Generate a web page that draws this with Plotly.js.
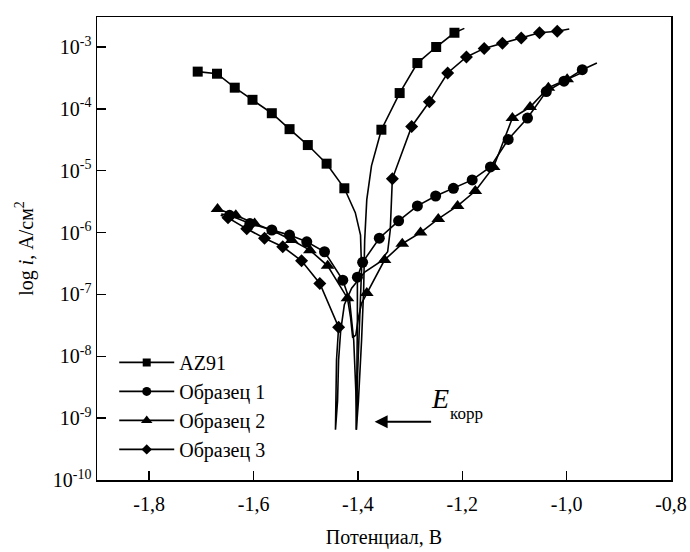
<!DOCTYPE html>
<html><head><meta charset="utf-8">
<script src="https://cdn.plot.ly/plotly-3.0.1.min.js"></script>
<style>html,body{margin:0;padding:0;background:#fff}#chart{width:690px;height:552px}</style>
</head><body><div id="chart"></div>
<script>
// ---- series names / symbols ----
const seriesNames = ['AZ91', 'Образец 1', 'Образец 2', 'Образец 3'];
const seriesSymbols = ['square', 'circle', 'triangle-up', 'diamond'];

// ---- AZ91 ----
const az91HeadE = [];
const az91HeadI = [];
const az91CathE = [-1.707, -1.670, -1.636, -1.602, -1.565, -1.531, -1.496, -1.460, -1.426];
const az91CathI = [4.0e-4, 3.7e-4, 2.2e-4, 1.4e-4, 8.5e-5, 4.7e-5, 2.6e-5, 1.3e-5, 5.2e-6];
const az91DipE = [-1.405, -1.395, -1.393, -1.397, -1.401, -1.403, -1.399, -1.393, -1.389, -1.387, -1.383, -1.374];
const az91DipI = [2.1e-6, 9.1e-7, 2.5e-7, 3.9e-8, 4.2e-9, 6.5e-10, 1.9e-9, 1.8e-8, 1.2e-7, 7.6e-7, 3.4e-6, 1.2e-5];
const az91AnodE = [-1.355, -1.320, -1.286, -1.250, -1.215];
const az91AnodI = [4.6e-5, 1.8e-4, 5.5e-4, 1.0e-3, 1.7e-3];
const az91TailE = [-1.196];
const az91TailI = [2.0e-3];

// ---- Образец 1 ----
const s1HeadE = [-1.662];
const s1HeadI = [2.0e-6];
const s1CathE = [-1.646, -1.607, -1.565, -1.531, -1.498, -1.464, -1.429];
const s1CathI = [1.9e-6, 1.4e-6, 1.1e-6, 9.1e-7, 7.1e-7, 4.9e-7, 1.7e-7];
const s1DipE = [-1.416, -1.408, -1.404, -1.403, -1.402, -1.401, -1.401];
const s1DipI = [8.1e-8, 1.8e-8, 2.8e-9, 6.5e-10, 2.8e-9, 3.9e-8, 1.2e-7];
const s1AnodE = [-1.401, -1.391, -1.359, -1.322, -1.286, -1.251, -1.217, -1.181, -1.146, -1.112, -1.075, -1.039, -1.005, -0.970];
const s1AnodI = [1.9e-7, 3.3e-7, 8.1e-7, 1.55e-6, 2.7e-6, 3.9e-6, 5.2e-6, 7.1e-6, 1.15e-5, 3.2e-5, 7.1e-5, 1.9e-4, 2.8e-4, 4.3e-4];
const s1TailE = [-0.942];
const s1TailI = [5.5e-4];

// ---- Образец 2 ----
const s2HeadE = [];
const s2HeadI = [];
const s2CathE = [-1.669, -1.634, -1.598, -1.563, -1.527, -1.492, -1.458, -1.420];
const s2CathI = [2.4e-6, 1.9e-6, 1.4e-6, 1.07e-6, 7.6e-7, 5.2e-7, 2.9e-7, 8.7e-8];
const s2DipE = [-1.414, -1.410, -1.404, -1.399, -1.393];
const s2DipI = [4.2e-8, 2.0e-8, 2.2e-8, 4.2e-8, 7.2e-8];
const s2AnodE = [-1.383, -1.349, -1.315, -1.280, -1.246, -1.209, -1.175, -1.140, -1.104, -1.070, -1.035, -0.999];
const s2AnodI = [1.05e-7, 3.6e-7, 6.6e-7, 1.0e-6, 1.66e-6, 2.7e-6, 4.7e-6, 1.15e-5, 7.1e-5, 1.07e-4, 2.2e-4, 3.0e-4];
const s2TailE = [-0.966];
const s2TailI = [4.0e-4];

// ---- Образец 3 ----
const s3HeadE = [-1.663];
const s3HeadI = [1.9e-6];
const s3CathE = [-1.649, -1.613, -1.579, -1.544, -1.508, -1.473, -1.437];
const s3CathI = [1.74e-6, 1.15e-6, 8.1e-7, 5.9e-7, 3.5e-7, 1.5e-7, 2.95e-8];
const s3DipE = [-1.441, -1.443, -1.443, -1.439, -1.437, -1.433, -1.426, -1.412, -1.387, -1.359, -1.343, -1.338, -1.336];
const s3DipI = [8.7e-9, 1.9e-9, 6.5e-10, 1.9e-9, 8.7e-9, 2.6e-8, 6.8e-8, 1.26e-7, 2.3e-7, 3.3e-7, 4.9e-7, 1.1e-6, 2.8e-6];
const s3AnodE = [-1.334, -1.297, -1.263, -1.228, -1.192, -1.158, -1.123, -1.087, -1.052, -1.018];
const s3AnodI = [7.4e-6, 5.2e-5, 1.3e-4, 3.8e-4, 6.9e-4, 9.5e-4, 1.15e-3, 1.4e-3, 1.7e-3, 1.8e-3];
const s3TailE = [-0.995];
const s3TailI = [1.95e-3];

// ---- axis ticks ----
const xTickVals = [-1.8, -1.6, -1.4, -1.2, -1.0, -0.8];
const xTickText = ['-1,8', '-1,6', '-1,4', '-1,2', '-1,0', '-0,8'];
const yTickVals = [1e-10, 1e-9, 1e-8, 1e-7, 1e-6, 1e-5, 1e-4, 1e-3];
const yTickText = ['10<sup>-10</sup>', '10<sup>-9</sup>', '10<sup>-8</sup>', '10<sup>-7</sup>',
                   '10<sup>-6</sup>', '10<sup>-5</sup>', '10<sup>-4</sup>', '10<sup>-3</sup>'];

const FONT = 'Liberation Serif, Times New Roman, serif';
const markerSizes = [10, 11, 12, 10];
const legendSizes = [8, 9, 10, 8];

const seriesData = [
  [az91HeadE, az91HeadI, az91CathE, az91CathI, az91DipE, az91DipI, az91AnodE, az91AnodI, az91TailE, az91TailI],
  [s1HeadE, s1HeadI, s1CathE, s1CathI, s1DipE, s1DipI, s1AnodE, s1AnodI, s1TailE, s1TailI],
  [s2HeadE, s2HeadI, s2CathE, s2CathI, s2DipE, s2DipI, s2AnodE, s2AnodI, s2TailE, s2TailI],
  [s3HeadE, s3HeadI, s3CathE, s3CathI, s3DipE, s3DipI, s3AnodE, s3AnodI, s3TailE, s3TailI]
];

const traces = [];
seriesData.forEach((d, k) => {
  const [hE, hI, cE, cI, dE, dI, aE, aI, tE, tI] = d;
  const S = markerSizes[k];
  const x = [].concat(hE, cE, dE, aE, tE);
  const y = [].concat(hI, cI, dI, aI, tI);
  const sz = [].concat(hE.map(() => 0), cE.map(() => S), dE.map(() => 0), aE.map(() => S), tE.map(() => 0));
  traces.push({
    type: 'scatter', mode: 'lines+markers', x: x, y: y,
    name: seriesNames[k], legendgroup: 'g' + k, showlegend: false,
    line: {color: '#000', width: 1.6},
    marker: {symbol: seriesSymbols[k], size: sz, color: '#000', opacity: 1, line: {width: 0}},
    hoverinfo: 'skip'
  });
  traces.push({
    type: 'scatter', mode: 'lines+markers', x: [null], y: [null],
    name: seriesNames[k], legendgroup: 'g' + k, showlegend: true,
    line: {color: '#000', width: 1.6},
    marker: {symbol: seriesSymbols[k], size: legendSizes[k], color: '#000', opacity: 1}
  });
});

const layout = {
  width: 690, height: 552,
  margin: {l: 97, r: 19, t: 17, b: 72},
  paper_bgcolor: '#fff', plot_bgcolor: '#fff',
  font: {family: FONT, size: 20, color: '#000'},
  showlegend: true,
  legend: {
    x: 0.03, y: 0.024, xanchor: 'left', yanchor: 'bottom',
    bgcolor: 'rgba(0,0,0,0)', borderwidth: 0,
    font: {family: FONT, size: 20, color: '#000'},
    traceorder: 'grouped', tracegroupgap: 0, itemwidth: 55
  },
  xaxis: {
    range: [-1.9, -0.8], tickvals: xTickVals, ticktext: xTickText,
    showline: true, mirror: true, linecolor: '#000', linewidth: 1.5,
    ticks: 'inside', ticklen: 9, tickwidth: 1.5, tickcolor: '#000',
    ticklabelstandoff: 5,
    showgrid: false, zeroline: false,
    tickfont: {family: FONT, size: 20},
    title: {text: 'Потенциал, В', font: {family: FONT, size: 20}, standoff: 16}
  },
  yaxis: {
    type: 'log', range: [-10, -2.515], tickvals: yTickVals, ticktext: yTickText,
    showline: true, mirror: true, linecolor: '#000', linewidth: 1.5,
    ticks: 'inside', ticklen: 9, tickwidth: 1.5, tickcolor: '#000',
    showgrid: false, zeroline: false,
    tickfont: {family: FONT, size: 20},
    title: {text: 'log <i>i</i>, А/см<sup>2</sup>', font: {family: FONT, size: 20}, standoff: 14}
  },
  annotations: [
    {xref: 'x', yref: 'y', x: -1.368, y: -9.06, ax: 58, ay: 0, axref: 'pixel', ayref: 'pixel',
     text: '', showarrow: true, arrowhead: 2, arrowsize: 1.3, arrowwidth: 2, arrowcolor: '#000'},
    {xref: 'paper', yref: 'paper', x: 0.578, y: 0.177, xanchor: 'left', yanchor: 'middle',
     text: '<i>E</i>', showarrow: false, font: {family: FONT, size: 28, color: '#000'}},
    {xref: 'paper', yref: 'paper', x: 0.611, y: 0.144, xanchor: 'left', yanchor: 'middle',
     text: 'корр', showarrow: false, font: {family: FONT, size: 17, color: '#000'}}
  ]
};

Plotly.newPlot('chart', traces, layout, {displayModeBar: false, staticPlot: true});
</script>
</body></html>
